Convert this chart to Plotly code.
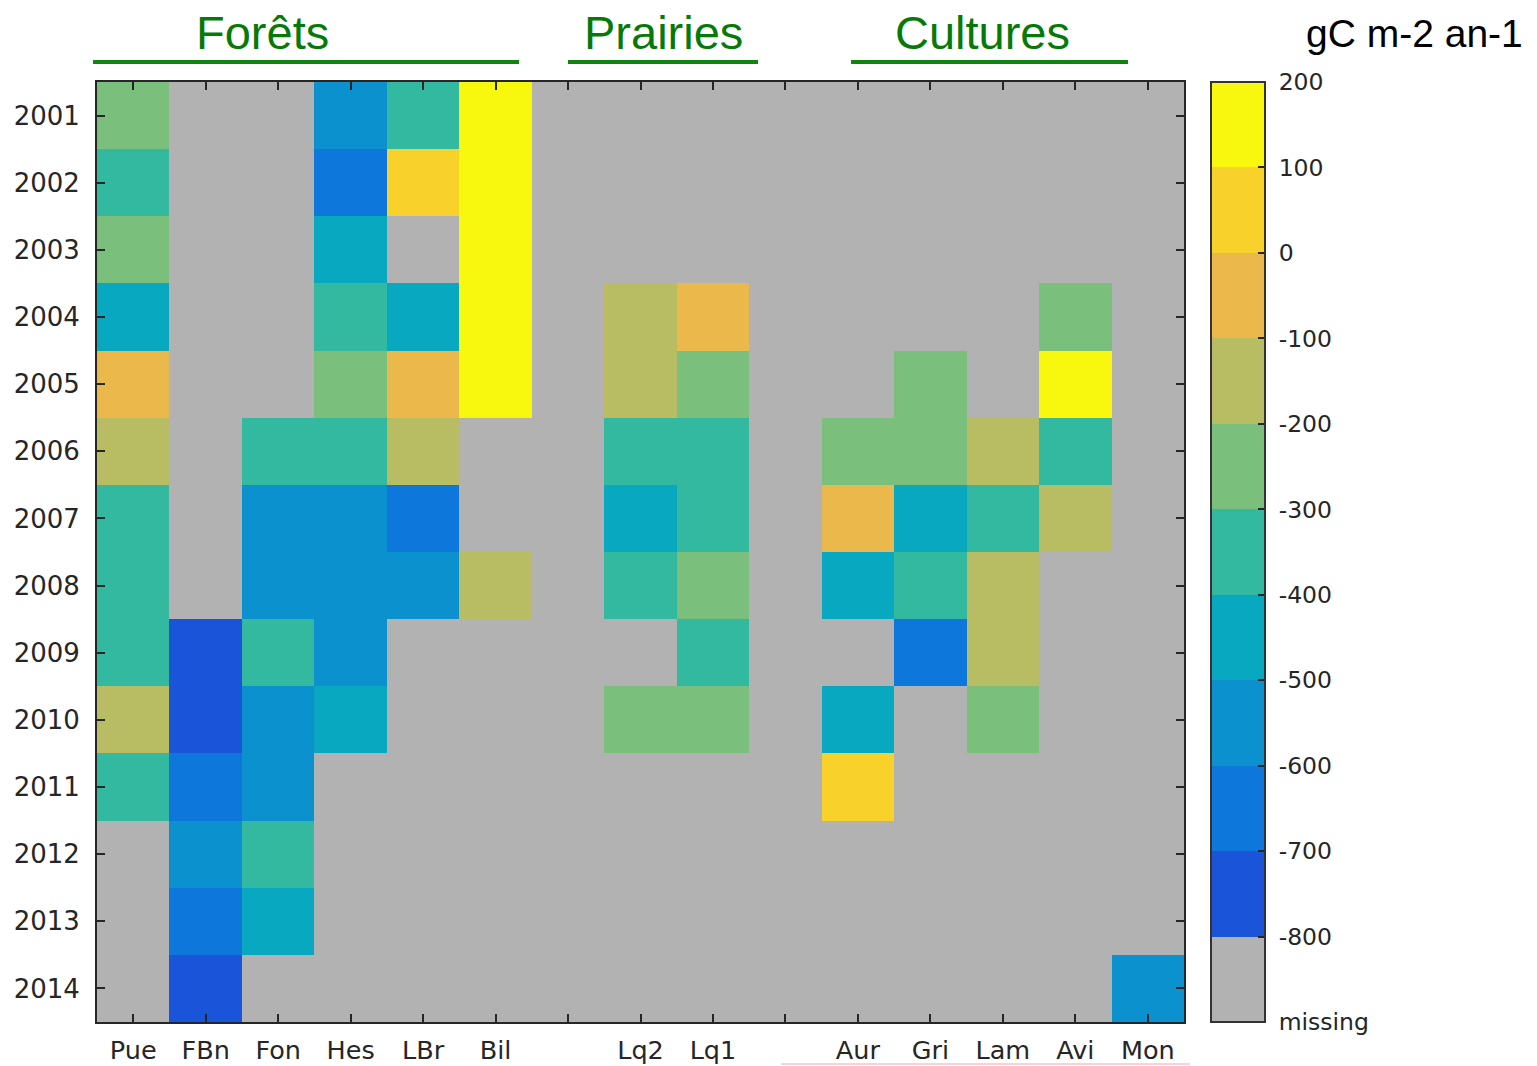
import plotly.graph_objects as go

years = list(range(2001, 2015))
site_labels = ["Pue", "FBn", "Fon", "Hes", "LBr", "Bil", "", "Lq2", "Lq1", "", "Aur", "Gri", "Lam", "Avi", "Mon"]
N = None
pue = [-250, -350, -250, -450, -50, -150, -350, -350, -350, -150, -350, N, N, N]
fbn = [N, N, N, N, N, N, N, N, -750, -750, -650, -550, -650, -750]
fon = [N, N, N, N, N, -350, -550, -550, -350, -550, -550, -350, -450, N]
hes = [-550, -650, -450, -350, -250, -350, -550, -550, -550, -450, N, N, N, N]
lbr = [-350, 50, N, -450, -50, -150, -650, -550, N, N, N, N, N, N]
bil = [150, 150, 150, 150, 150, N, N, -150, N, N, N, N, N, N]
gap = [N] * 14
lq2 = [N, N, N, -150, -150, -350, -450, -350, N, -250, N, N, N, N]
lq1 = [N, N, N, -50, -250, -350, -350, -250, -350, -250, N, N, N, N]
aur = [N, N, N, N, N, -250, -50, -450, N, -450, 50, N, N, N]
gri = [N, N, N, N, -250, -250, -450, -350, -650, N, N, N, N, N]
lam = [N, N, N, N, N, -150, -350, -150, -150, -250, N, N, N, N]
avi = [N, N, N, -250, 150, -350, -150, N, N, N, N, N, N, N]
mon = [N, N, N, N, N, N, N, N, N, N, N, N, N, -550]
columns = [pue, fbn, fon, hes, lbr, bil, gap, lq2, lq1, gap, aur, gri, lam, avi, mon]

cbar_vals = [200, 100, 0, -100, -200, -300, -400, -500, -600, -700, -800, -900]
cbar_text = ["200", "100", "0", "-100", "-200", "-300", "-400", "-500", "-600", "-700", "-800", "missing"]
MISSING = -850

groups = ["Forêts", "Prairies", "Cultures"]

colors = ["#b2b2b2", "#1a54d8", "#0e77db", "#0b91ce", "#07a8c0", "#33b99f",
          "#7bbf7c", "#b8bd64", "#ebb84c", "#f8d12a", "#f8f80e"]
nb = len(colors)
cscale = []
for i, c in enumerate(colors):
    cscale.append([i / nb, c])
    cscale.append([(i + 1) / nb, c])

z = []
for yi in range(len(years)):
    row = []
    for col in columns:
        v = col[yi]
        row.append(MISSING if v is None else v)
    z.append(row)

W, H = 1537, 1066
L, T = 97, 82
pw, ph = 1087, 940
R = W - L - pw
B = H - T - ph

def px(x):
    return (x - L) / pw

def py(y):
    return (T + ph - y) / ph

NBSP = "\u00a0"
fig = go.Figure(go.Heatmap(
    z=z, x=list(range(len(site_labels))), y=years,
    colorscale=cscale, zmin=-900, zmax=200,
    colorbar=dict(
        x=px(1211), xanchor="left", xref="paper",
        y=0, yanchor="bottom", len=1, lenmode="fraction",
        thickness=54, thicknessmode="pixels",
        outlinewidth=2, outlinecolor="#333333",
        tickvals=cbar_vals, ticktext=[NBSP + t for t in cbar_text],
        ticks="inside", ticklen=8, tickwidth=2, tickcolor="#262626",
        tickfont=dict(family="DejaVu Sans", size=23.5, color="#262626"),
        ypad=0, xpad=0,
    ),
    hoverongaps=False,
))

fig.update_xaxes(
    range=[-0.5, 14.5], tickvals=list(range(len(site_labels))), ticktext=site_labels,
    ticks="inside", ticklen=8, tickwidth=2, tickcolor="#262626",
    showline=True, linewidth=2, linecolor="#262626", mirror="ticks",
    tickfont=dict(family="DejaVu Sans", size=25.5, color="#262626"),
    showgrid=False, zeroline=False, ticklabelstandoff=4, automargin=False,
)
fig.update_yaxes(
    range=[2014.5, 2000.5], tickvals=years, ticktext=[str(y) for y in years],
    ticks="inside", ticklen=8, tickwidth=2, tickcolor="#262626",
    showline=True, linewidth=2, linecolor="#262626", mirror="ticks",
    tickfont=dict(family="DejaVu Sans", size=26, color="#262626"),
    showgrid=False, zeroline=False, ticklabelstandoff=10, automargin=False,
)

green = "#067a06"
line_green = "#0d860d"
group_text_x = [262, 663, 982]
group_lines = [(93, 519), (568, 758), (851, 1128)]
for g, tx, (x0, x1) in zip(groups, group_text_x, group_lines):
    fig.add_annotation(text=g, x=px(tx), y=py(33), xref="paper", yref="paper",
                       xanchor="center", yanchor="middle", showarrow=False,
                       font=dict(family="Liberation Sans", size=47, color=green))
    fig.add_shape(type="line", xref="paper", yref="paper",
                  x0=px(x0), x1=px(x1), y0=py(62), y1=py(62),
                  line=dict(color=line_green, width=4))

fig.add_annotation(text="gC m-2 an-1", x=px(1414), y=py(34), xref="paper", yref="paper",
                   xanchor="center", yanchor="middle", showarrow=False,
                   font=dict(family="Liberation Sans", size=39, color="black"))

fig.add_shape(type="line", xref="paper", yref="paper",
              x0=px(781), x1=px(1190), y0=py(1064), y1=py(1064),
              line=dict(color="#f2a8a8", width=1))

fig.update_layout(
    width=W, height=H, margin=dict(l=L, r=R, t=T, b=B, autoexpand=False),
    plot_bgcolor="white", paper_bgcolor="white",
)

fig.write_html("out.html", post_script="document.body.style.margin='0px';",
               config={"displayModeBar": False})
